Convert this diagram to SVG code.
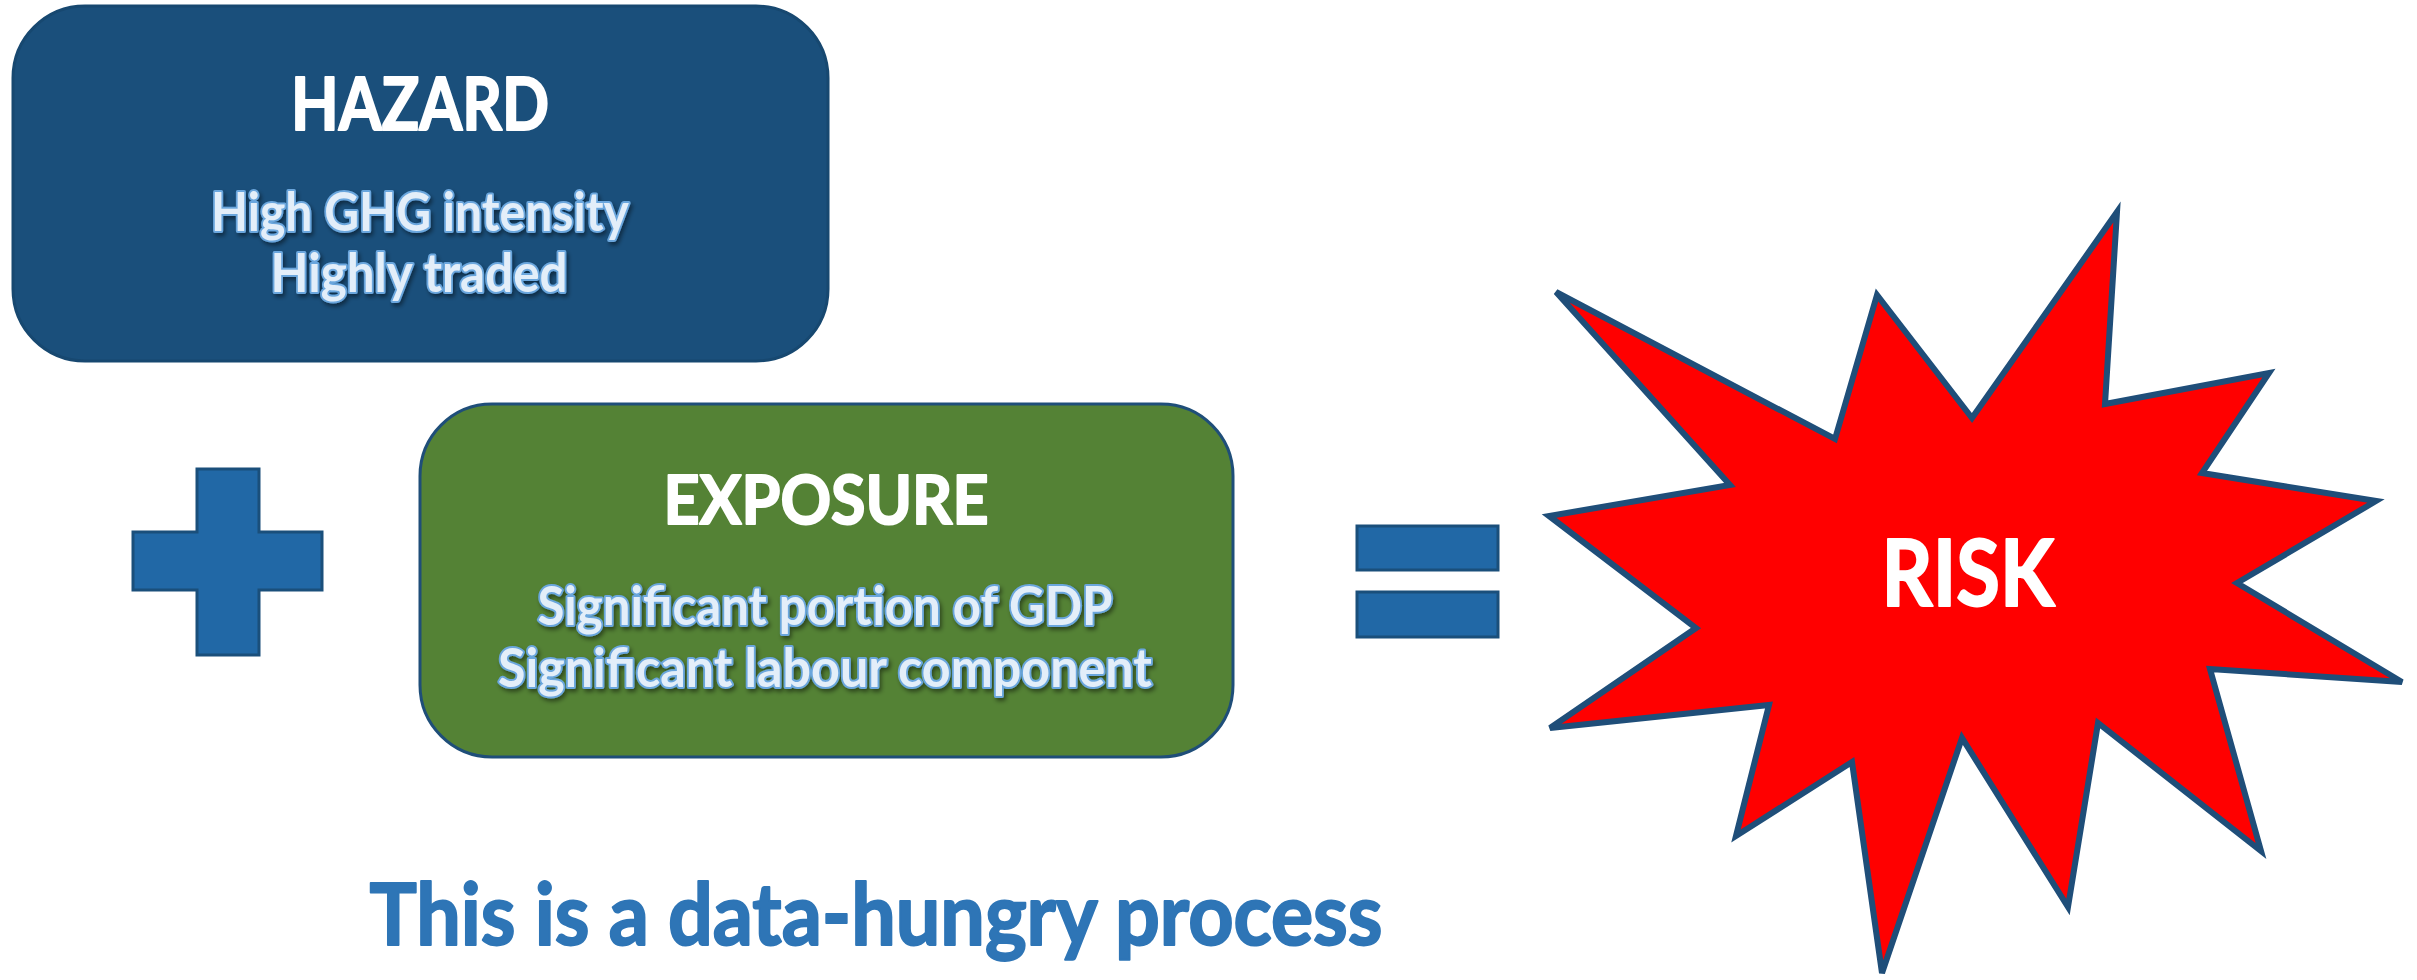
<svg xmlns="http://www.w3.org/2000/svg" width="2417" height="980" viewBox="0 0 2417 980">
<style>
.title{font-family:Lato,"Open Sans","Liberation Sans",sans-serif;font-weight:bold;fill:#ffffff;stroke:#ffffff;stroke-width:2;stroke-linejoin:round;text-anchor:middle}
.sub{font-family:Lato,"Open Sans","Liberation Sans",sans-serif;font-weight:bold;fill:#e3eef9;stroke:#6aa6dd;stroke-width:4;paint-order:stroke;stroke-linejoin:round;text-anchor:middle;filter:url(#sh)}
.sym{fill:#2168a6;stroke:#1a4f7b;stroke-width:3}
.note{font-family:Lato,"Open Sans","Liberation Sans",sans-serif;font-weight:bold;fill:#2e75b6;stroke:#2e75b6;stroke-width:2;stroke-linejoin:round;text-anchor:middle}
</style>
<defs>
<filter id="sh" x="-10%" y="-30%" width="120%" height="160%">
<feDropShadow dx="2" dy="3" stdDeviation="2" flood-color="#000000" flood-opacity="0.45"/>
</filter>
</defs>
<rect width="2417" height="980" fill="#ffffff"/>
<g id="hazard">
<rect x="13" y="6" width="815" height="355" rx="72" ry="72" fill="#1a4f7b" stroke="#174870" stroke-width="3"/>
<text class="title" x="420" y="130" font-size="72" textLength="258" lengthAdjust="spacingAndGlyphs">HAZARD</text>
<text class="sub" x="420" y="231" font-size="54" textLength="418" lengthAdjust="spacingAndGlyphs">High GHG intensity</text>
<text class="sub" x="419" y="292" font-size="54" textLength="297" lengthAdjust="spacingAndGlyphs">Highly traded</text>
</g>
<g id="plus">
<path class="sym" d="M197,469 H259 V532 H322 V590 H259 V655 H197 V590 H133 V532 H197 Z"/>
</g>
<g id="exposure">
<rect x="420" y="404" width="813" height="353" rx="72" ry="72" fill="#548235" stroke="#1f4e79" stroke-width="3"/>
<text class="title" x="826" y="524" font-size="67" textLength="325" lengthAdjust="spacingAndGlyphs">EXPOSURE</text>
<text class="sub" x="825" y="625" font-size="54" textLength="575" lengthAdjust="spacingAndGlyphs">Significant portion of GDP</text>
<text class="sub" x="825" y="687" font-size="54" textLength="654" lengthAdjust="spacingAndGlyphs">Significant labour component</text>
</g>
<g id="equals">
<rect class="sym" x="1357" y="526" width="141" height="44"/>
<rect class="sym" x="1357" y="592" width="141" height="45"/>
</g>
<g id="risk">
<polygon points="1556,292 1835,439 1877,295 1972,418 2117,212 2105,404 2269,373 2202,473 2376,501 2237,583 2402,682 2210,669 2261,851 2098,723 2068,907 1962,738 1882,973 1852,762 1736,836 1769,705 1550,728 1696,628 1549,516 1730,485" fill="#ff0000" stroke="#1f4e79" stroke-width="6" stroke-linejoin="miter"/>
<text class="title" x="1968" y="606" font-size="92" textLength="173" lengthAdjust="spacingAndGlyphs">RISK</text>
</g>
<g id="connectors"></g>
<text class="note" x="876" y="945" font-size="86" textLength="1013" lengthAdjust="spacingAndGlyphs">This is a data-hungry process</text>
</svg>
